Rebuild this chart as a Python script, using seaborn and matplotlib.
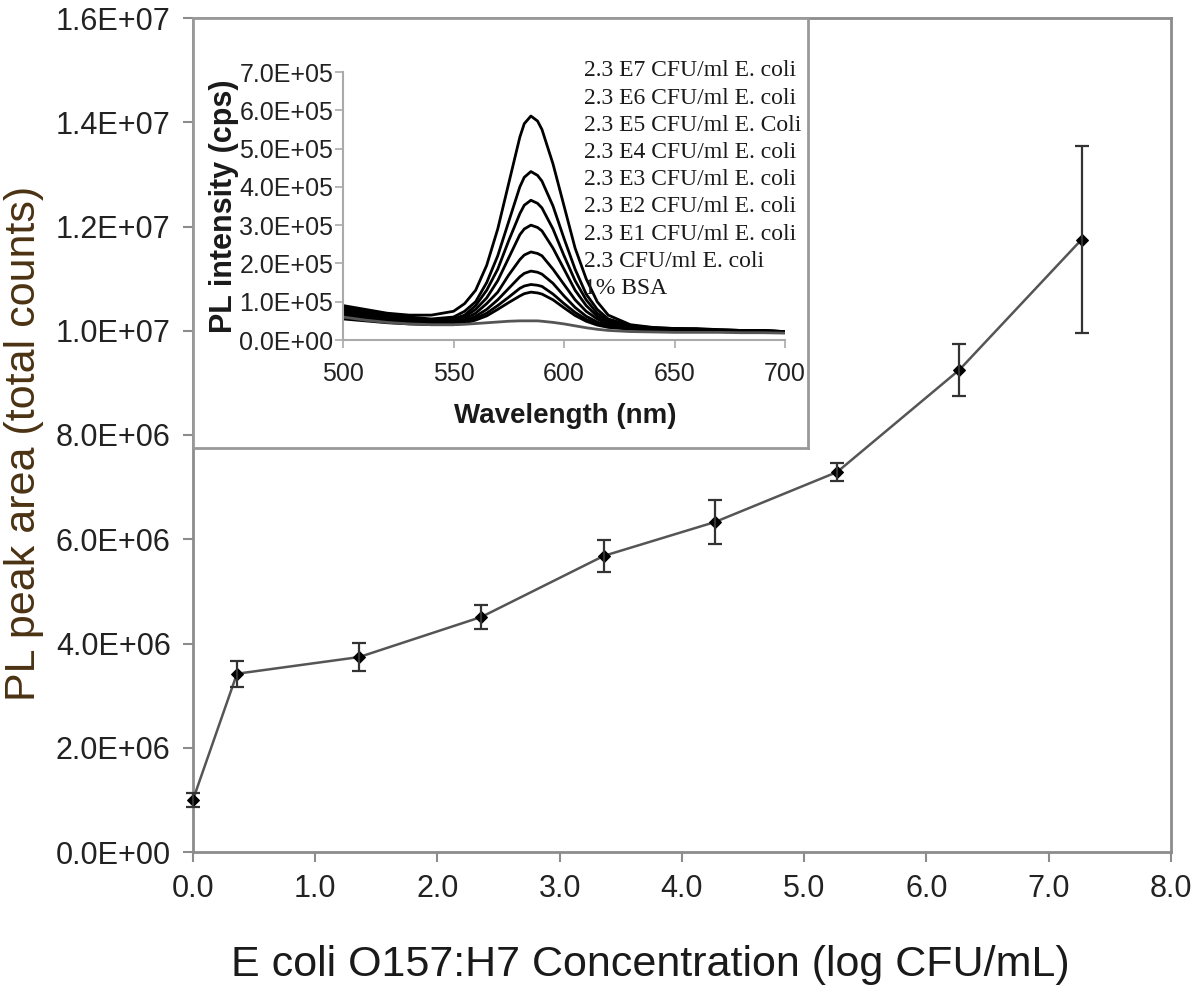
import seaborn as sns
import matplotlib.pyplot as plt
import numpy as np
import pandas as pd
from matplotlib.ticker import FuncFormatter

# Main plot: PL peak area vs concentration
conc_log = [0.0, 0.36, 1.36, 2.36, 3.36, 4.27, 5.27, 6.27, 7.27]
peak_area = [1.00e6, 3.42e6, 3.74e6, 4.51e6, 5.68e6, 6.33e6, 7.29e6, 9.25e6, 11.75e6]
peak_err = [0.13e6, 0.25e6, 0.27e6, 0.23e6, 0.30e6, 0.43e6, 0.17e6, 0.50e6, 1.80e6]

# Inset: PL spectra (units of 1e5 cps)
wavelength = [500, 510, 520, 530, 540, 550, 555, 560, 565, 570, 575, 580, 582, 585, 588, 590,
              595, 600, 605, 610, 615, 620, 630, 640, 650, 660, 670, 680, 690, 700]
spectra = {
    "2.3 E7 CFU/ml E. coli": [0.9, 0.8, 0.7, 0.65, 0.65, 0.75, 0.95, 1.3, 1.95, 2.9, 4.1, 5.3, 5.65, 5.85, 5.72, 5.5,
                              4.6, 3.5, 2.4, 1.6, 1.0, 0.65, 0.4, 0.33, 0.3, 0.3, 0.27, 0.25, 0.25, 0.22],
    "2.3 E6 CFU/ml E. coli": [0.85, 0.75, 0.65, 0.6, 0.55, 0.6, 0.75, 1.0, 1.5, 2.2, 3.1, 4.0, 4.25, 4.4, 4.3, 4.15,
                              3.5, 2.65, 1.85, 1.2, 0.8, 0.55, 0.38, 0.32, 0.3, 0.28, 0.26, 0.25, 0.24, 0.22],
    "2.3 E5 CFU/ml E. Coli": [0.8, 0.7, 0.6, 0.55, 0.5, 0.55, 0.65, 0.9, 1.3, 1.85, 2.6, 3.3, 3.52, 3.65, 3.57, 3.45,
                              2.9, 2.2, 1.55, 1.05, 0.7, 0.5, 0.36, 0.31, 0.29, 0.27, 0.26, 0.25, 0.24, 0.22],
    "2.3 E4 CFU/ml E. coli": [0.75, 0.65, 0.57, 0.5, 0.48, 0.5, 0.6, 0.8, 1.1, 1.55, 2.15, 2.75, 2.9, 3.0, 2.94, 2.85,
                              2.4, 1.85, 1.3, 0.9, 0.62, 0.46, 0.34, 0.3, 0.28, 0.27, 0.26, 0.25, 0.24, 0.22],
    "2.3 E3 CFU/ml E. coli": [0.7, 0.6, 0.53, 0.48, 0.45, 0.47, 0.55, 0.7, 0.95, 1.25, 1.7, 2.1, 2.22, 2.3, 2.26, 2.2,
                              1.85, 1.45, 1.05, 0.75, 0.55, 0.42, 0.33, 0.29, 0.27, 0.26, 0.25, 0.24, 0.23, 0.22],
    "2.3 E2 CFU/ml E. coli": [0.65, 0.57, 0.5, 0.46, 0.43, 0.44, 0.5, 0.62, 0.8, 1.05, 1.35, 1.65, 1.74, 1.8, 1.77, 1.72,
                              1.48, 1.15, 0.85, 0.62, 0.47, 0.38, 0.31, 0.28, 0.27, 0.26, 0.25, 0.24, 0.23, 0.22],
    "2.3 E1 CFU/ml E. coli": [0.6, 0.53, 0.47, 0.44, 0.42, 0.42, 0.47, 0.56, 0.7, 0.9, 1.12, 1.35, 1.41, 1.45, 1.43, 1.4,
                              1.2, 0.95, 0.72, 0.54, 0.42, 0.35, 0.3, 0.27, 0.26, 0.25, 0.24, 0.23, 0.22, 0.21],
    "2.3 CFU/ml E. coli": [0.55, 0.5, 0.45, 0.42, 0.4, 0.4, 0.44, 0.52, 0.63, 0.8, 0.98, 1.15, 1.21, 1.25, 1.23, 1.2,
                           1.05, 0.84, 0.64, 0.49, 0.39, 0.33, 0.28, 0.26, 0.25, 0.24, 0.23, 0.22, 0.22, 0.21],
    "1% BSA": [0.6, 0.52, 0.46, 0.42, 0.4, 0.4, 0.41, 0.43, 0.45, 0.47, 0.49, 0.5, 0.5, 0.5, 0.5, 0.49,
               0.46, 0.42, 0.37, 0.32, 0.28, 0.25, 0.22, 0.21, 0.2, 0.2, 0.2, 0.19, 0.19, 0.18],
}

sns.set_theme(style="white")
plt.rcParams["font.family"] = ["Liberation Sans", "DejaVu Sans"]

fig = plt.figure(figsize=(11.94, 10), dpi=100)
ax = fig.add_axes([0.1616, 0.148, 0.819, 0.834])

main_df = pd.DataFrame({"x": conc_log, "y": peak_area})
sns.lineplot(data=main_df, x="x", y="y", ax=ax, color="#555555", lw=1.8,
             marker="D", markersize=6, markerfacecolor="black", markeredgecolor="black",
             clip_on=False, zorder=4)
ax.errorbar(conc_log, peak_area, yerr=peak_err, fmt="none", ecolor="#333333",
            elinewidth=1.6, capsize=5, capthick=1.6, clip_on=False, zorder=4)

ax.set_xlim(0, 8)
ax.set_ylim(0, 1.6e7)
ax.set_xticks(np.arange(0, 9, 1))
ax.set_yticks(np.arange(0, 1.61e7, 2e6))
ax.xaxis.set_major_formatter(FuncFormatter(lambda v, p: f"{v:.1f}"))
ax.yaxis.set_major_formatter(FuncFormatter(lambda v, p: f"{v:.1E}"))
for s in ax.spines.values():
    s.set_color("#8c8c8c")
    s.set_linewidth(2)
ax.tick_params(axis="both", which="major", direction="out", length=7, width=1.5,
               color="#8c8c8c", labelsize=22, labelcolor="#222222", pad=9,
               left=True, bottom=True)
ax.set_xlabel("E coli O157:H7 Concentration (log CFU/mL)", fontsize=31, color="#1a1a1a")
ax.set_ylabel("PL peak area (total counts)", fontsize=31, color="#4a3212")
ax.xaxis.set_label_coords(0.468, -0.112)
ax.yaxis.set_label_coords(-0.152, 0.49)

# Inset frame
box = fig.add_axes([0.1616, 0.552, 0.515, 0.430])
box.set_xticks([])
box.set_yticks([])
box.set_facecolor("white")
for s in box.spines.values():
    s.set_color("#999999")
    s.set_linewidth(2)

ins = fig.add_axes([0.2873, 0.660, 0.3702, 0.268])
ins.patch.set_alpha(0)
rows = []
for name, vals in spectra.items():
    for w, v in zip(wavelength, vals):
        rows.append({"Wavelength": w, "PL": v * 1e5, "Sample": name})
spec_df = pd.DataFrame(rows)
palette = {name: "black" for name in spectra}
palette["1% BSA"] = "#555555"
sns.lineplot(data=spec_df, x="Wavelength", y="PL", hue="Sample", palette=palette,
             hue_order=list(spectra.keys()), lw=2, ax=ins, solid_joinstyle="round")
ins.set_xlim(500, 700)
ins.set_ylim(0, 7e5)
ins.set_xticks([500, 550, 600, 650, 700])
ins.set_yticks(np.arange(0, 7.01e5, 1e5))
ins.yaxis.set_major_formatter(FuncFormatter(lambda v, p: f"{v:.1E}"))
for side in ["top", "right"]:
    ins.spines[side].set_visible(False)
for side in ["left", "bottom"]:
    ins.spines[side].set_color("#aaaaaa")
    ins.spines[side].set_linewidth(1.5)
ins.tick_params(axis="both", direction="out", length=6, width=1.2, color="#aaaaaa",
                labelsize=18, labelcolor="#222222", left=True, bottom=True)
ins.tick_params(axis="y", pad=1)
ins.tick_params(axis="x", pad=10)
ins.set_xlabel("Wavelength (nm)", fontsize=20, fontweight="bold", color="#1a1a1a")
ins.set_ylabel("PL intensity (cps)", fontsize=22, fontweight="bold", color="#1a1a1a")
ins.xaxis.set_label_coords(0.502, -0.235)
ins.yaxis.set_label_coords(-0.235, 0.5)

leg = ins.legend(loc="upper left", bbox_to_anchor=(0.545, 1.045), frameon=False,
                 handlelength=0, handletextpad=0, borderpad=0, borderaxespad=0,
                 labelspacing=0.24, prop={"family": "Liberation Serif", "size": 17})
for h in leg.legend_handles:
    h.set_visible(False)
for t in leg.get_texts():
    t.set_color("#1a1a1a")

fig.savefig("out.png", dpi=100)
